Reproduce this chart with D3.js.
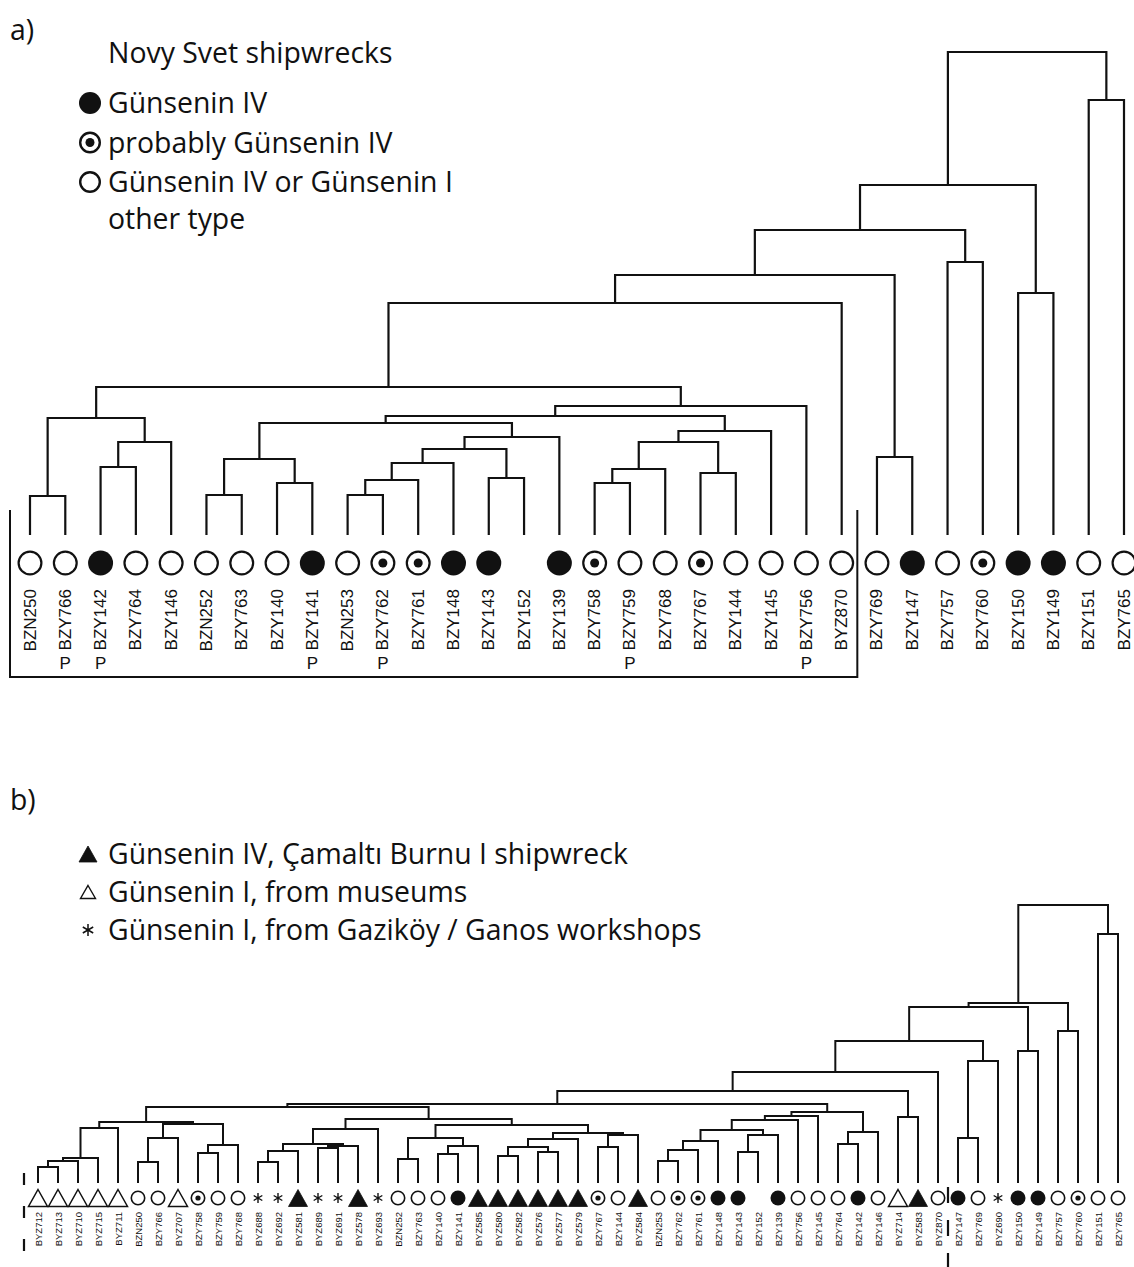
<!DOCTYPE html>
<html><head><meta charset="utf-8">
<script src="https://cdn.jsdelivr.net/npm/d3@7"></script>
<style>body{margin:0;background:#fff}</style>
</head><body>
<svg id="c" width="1134" height="1267"></svg>
<script>
// ---------- DATA: panel a ----------
const leavesA = ["BZN250","BZY766","BZY142","BZY764","BZY146","BZN252","BZY763","BZY140","BZY141","BZN253","BZY762","BZY761","BZY148","BZY143","BZY152","BZY139","BZY758","BZY759","BZY768","BZY767","BZY144","BZY145","BZY756","BYZ870","BZY769","BZY147","BZY757","BZY760","BZY150","BZY149","BZY151","BZY765"];
// f = filled, d = dotted (probably), o = open, n = none
const symbolsA = ["o","o","f","o","o","o","o","o","f","o","d","d","f","f","n","f","d","o","o","d","o","o","o","o","o","f","o","d","f","f","o","o"];
const pMarksA = ["BZY766","BZY142","BZY141","BZY762","BZY759","BZY756"];
// merges: [child, child, linkage distance]; a number refers to an earlier merge
const mergesA = [
 ["BZN250","BZY766",3.9], ["BZY142","BZY764",6.8], [1,"BZY146",9.3], [0,2,11.7],
 ["BZN252","BZY763",4.0], ["BZY140","BZY141",5.2], [4,5,7.6],
 ["BZN253","BZY762",4.0], [7,"BZY761",5.5], [8,"BZY148",7.2], ["BZY143","BZY152",5.7],
 [9,10,8.6], [11,"BZY139",9.8], [6,12,11.2],
 ["BZY758","BZY759",5.2], [14,"BZY768",6.6], ["BZY767","BZY144",6.2], [15,16,9.3], [17,"BZY145",10.4],
 [13,18,11.9], [19,"BZY756",12.9], [3,20,14.8], [21,"BYZ870",23.2],
 ["BZY769","BZY147",7.8], [22,23,26.0], ["BZY757","BZY760",27.3], [24,25,30.5],
 ["BZY150","BZY149",24.2], [26,27,35.0], ["BZY151","BZY765",43.5], [28,29,48.3]
];
const legendA = ["Günsenin IV","probably Günsenin IV","Günsenin IV or Günsenin I"];
const legendASymbols = ["f","d","o"];

// ---------- DATA: panel b ----------
const leavesB = ["BYZ712","BYZ713","BYZ710","BYZ715","BYZ711","BZN250","BZY766","BYZ707","BZY758","BZY759","BZY768","BYZ688","BYZ692","BYZ581","BYZ689","BYZ691","BYZ578","BYZ693","BZN252","BZY763","BZY140","BZY141","BYZ585","BYZ580","BYZ582","BYZ576","BYZ577","BYZ579","BZY767","BZY144","BYZ584","BZN253","BZY762","BZY761","BZY148","BZY143","BZY152","BZY139","BZY756","BZY145","BZY764","BZY142","BZY146","BYZ714","BYZ583","BYZ870","BZY147","BZY769","BYZ690","BZY150","BZY149","BZY757","BZY760","BZY151","BZY765"];
// T = open triangle, F = filled triangle, * = asterisk
const symbolsB = ["T","T","T","T","T","o","o","T","d","o","o","*","*","F","*","*","F","*","o","o","o","f","F","F","F","F","F","F","d","o","F","o","d","d","f","f","n","f","o","o","o","f","o","T","F","o","f","o","*","f","f","o","d","o","o"];
const mergesB = [
 ["BYZ712","BYZ713",1.6], [0,"BYZ710",2.2], [1,"BYZ715",2.5], [2,"BYZ711",5.5],
 ["BZN250","BZY766",2.1], [4,"BYZ707",4.5], ["BZY758","BZY759",3.0], [6,"BZY768",3.8],
 [5,7,5.9], [3,8,6.1],
 ["BYZ688","BYZ692",2.1], [10,"BYZ581",3.2], ["BYZ689","BYZ691",3.5], [12,"BYZ578",3.7],
 [11,13,3.9], [14,"BYZ693",5.4],
 ["BZN252","BZY763",2.4], ["BZY140","BZY141",2.9], [17,"BYZ585",3.7], [16,18,4.5],
 ["BYZ580","BYZ582",2.7], ["BYZ576","BYZ577",3.1], [20,21,3.6], [22,"BYZ579",4.4],
 ["BZY767","BZY144",3.6], [24,"BYZ584",4.8], [23,25,5.0], [19,26,5.8], [15,27,6.4], [9,28,7.6],
 ["BZN253","BZY762",2.2], [30,"BZY761",3.3], [31,"BZY148",4.2], ["BZY143","BZY152",3.1],
 [33,"BZY139",4.8], [32,34,5.3], [35,"BZY756",6.3], [36,"BZY145",6.7],
 ["BZY764","BZY142",3.9], [38,"BZY146",5.1], [37,39,7.1], [29,40,7.9],
 ["BYZ714","BYZ583",6.6], [41,42,9.2], [43,"BYZ870",11.1],
 ["BZY147","BZY769",4.5], [45,"BYZ690",12.2], [44,46,14.2],
 ["BZY150","BZY149",13.2], [47,48,17.6], ["BZY757","BZY760",15.2], [49,50,18.0],
 ["BZY151","BZY765",24.9], [51,52,27.8]
];
const legendB = ["Günsenin IV, Çamaltı Burnu I shipwreck","Günsenin I, from museums","Günsenin I, from Gaziköy / Ganos workshops"];
const legendBSymbols = ["F","T","*"];

// ---------- DRAWING ----------
const svg = d3.select("#c");
const INK = "#111";
const LF = "'Open Sans', 'Noto Sans', sans-serif";
const AF = "'Liberation Sans', Arial, sans-serif";
const LFS = 28.4;

function drawTree(g, merges, x, y, sw) {
  const nodes = [];
  const pos = r => typeof r === "number" ? nodes[r] : {x: x(r), y: y(0)};
  merges.forEach(([a, b, h]) => {
    const A = pos(a), B = pos(b), yh = y(h);
    const p = d3.path();
    p.moveTo(A.x, A.y); p.lineTo(A.x, yh); p.lineTo(B.x, yh); p.lineTo(B.x, B.y);
    g.append("path").attr("d", p.toString()).attr("fill", "none")
      .attr("stroke", INK).attr("stroke-width", sw).attr("stroke-linejoin", "miter");
    nodes.push({x: (A.x + B.x) / 2, y: yh});
  });
}

function drawSymbol(g, t, cx, cy, o) {
  if (t === "f") {
    g.append("circle").attr("cx", cx).attr("cy", cy).attr("r", o.r).attr("fill", INK);
  } else if (t === "o" || t === "d") {
    g.append("circle").attr("cx", cx).attr("cy", cy).attr("r", o.r - o.sw / 2)
      .attr("fill", "#fff").attr("stroke", INK).attr("stroke-width", o.sw);
    if (t === "d") g.append("circle").attr("cx", cx).attr("cy", cy).attr("r", o.dot).attr("fill", INK);
  } else if (t === "F" || t === "T") {
    const w = o.tw, h = o.th;
    const pts = [[cx, cy - h / 2], [cx + w / 2, cy + h / 2], [cx - w / 2, cy + h / 2]];
    g.append("path").attr("d", "M" + pts.map(p => p.join(",")).join("L") + "Z")
      .attr("fill", t === "F" ? INK : "#fff").attr("stroke", INK)
      .attr("stroke-width", t === "F" ? 0.8 : o.tsw).attr("stroke-linejoin", "miter");
  } else if (t === "*") {
    const L = o.ast;
    const p = d3.path();
    [90, 30, -30].forEach(a => {
      const rad = a * Math.PI / 180, dx = Math.cos(rad) * L, dy = Math.sin(rad) * L;
      p.moveTo(cx - dx, cy - dy); p.lineTo(cx + dx, cy + dy);
    });
    g.append("path").attr("d", p.toString()).attr("stroke", INK).attr("stroke-width", o.asw).attr("fill", "none");
  }
}

// ===== Panel a =====
const gA = svg.append("g");
const xA = d3.scalePoint().domain(leavesA).range([30, 1124]);
const yA = d3.scaleLinear().domain([0, 48.3]).range([535, 52]);
drawTree(gA, mergesA, xA, yA, 2.2);
const symA = {r: 12.5, sw: 2.2, dot: 4.5};
leavesA.forEach((n, i) => drawSymbol(gA, symbolsA[i], xA(n), 563, symA));
gA.selectAll("text.lab").data(leavesA).join("text").attr("class", "lab")
  .attr("transform", d => `translate(${xA(d)},589) rotate(-90)`)
  .attr("text-anchor", "end").attr("dominant-baseline", "central")
  .attr("font-family", AF).attr("font-size", 17).attr("fill", INK).text(d => d);
gA.selectAll("text.p").data(pMarksA).join("text").attr("class", "p")
  .attr("x", d => xA(d)).attr("y", 669).attr("text-anchor", "middle")
  .attr("font-family", AF).attr("font-size", 17).attr("fill", INK).text("P");
// bracket
const brX = (xA("BYZ870") + xA("BZY769")) / 2 - 2;
gA.append("path").attr("d", `M10,510V677H${brX}V510`)
  .attr("fill", "none").attr("stroke", INK).attr("stroke-width", 2);

// legend a
svg.append("text").attr("x", 10).attr("y", 40).attr("font-family", LF).attr("font-size", LFS).attr("fill", INK).text("a)");
svg.append("text").attr("x", 108).attr("y", 63).attr("font-family", LF).attr("font-size", LFS).attr("fill", INK).text("Novy Svet shipwrecks");
const legYA = d3.scalePoint().domain(legendA).range([103, 182]);
legendA.forEach((t, i) => {
  drawSymbol(svg, legendASymbols[i], 90, legYA(t), {r: 11, sw: 2.4, dot: 4.5});
  svg.append("text").attr("x", 108).attr("y", legYA(t) + 10).attr("font-family", LF).attr("font-size", LFS).attr("fill", INK).text(t);
});
svg.append("text").attr("x", 108).attr("y", 229).attr("font-family", LF).attr("font-size", LFS).attr("fill", INK).text("other type");

// ===== Panel b =====
const gB = svg.append("g");
const xB = d3.scalePoint().domain(leavesB).range([38, 1118]);
const yB = d3.scaleLinear().domain([0, 27.8]).range([1183, 905]);
drawTree(gB, mergesB, xB, yB, 2);
const symB = {r: 7.5, sw: 1.6, dot: 2.6, tw: 19, th: 17, tsw: 1.5, ast: 5, asw: 1.4};
leavesB.forEach((n, i) => drawSymbol(gB, symbolsB[i], xB(n), 1198, symB));
gB.selectAll("text.lab").data(leavesB).join("text").attr("class", "lab")
  .attr("transform", d => `translate(${xB(d)},1212) rotate(-90)`)
  .attr("text-anchor", "end").attr("dominant-baseline", "central")
  .attr("font-family", AF).attr("font-size", 9.5).attr("fill", INK).text(d => d);
// dashed separators
gB.append("line").attr("x1", 24).attr("x2", 24).attr("y1", 1173).attr("y2", 1267)
  .attr("stroke", INK).attr("stroke-width", 2.2).attr("stroke-dasharray", "12,21");
const sepX = (xB("BYZ870") + xB("BZY147")) / 2;
gB.append("line").attr("x1", sepX).attr("x2", sepX).attr("y1", 1187).attr("y2", 1267)
  .attr("stroke", INK).attr("stroke-width", 2.2).attr("stroke-dasharray", "16,17");

// legend b
svg.append("text").attr("x", 10).attr("y", 810).attr("font-family", LF).attr("font-size", LFS).attr("fill", INK).text("b)");
const legYB = d3.scalePoint().domain(legendB).range([854, 930]);
legendB.forEach((t, i) => {
  drawSymbol(svg, legendBSymbols[i], 88, legYB(t), {tw: i === 0 ? 18 : 15, th: i === 0 ? 16 : 13, tsw: 1.4, ast: 6, asw: 1.5});
  svg.append("text").attr("x", 108).attr("y", legYB(t) + 10).attr("font-family", LF).attr("font-size", LFS).attr("fill", INK).text(t);
});
</script>
</body></html>
